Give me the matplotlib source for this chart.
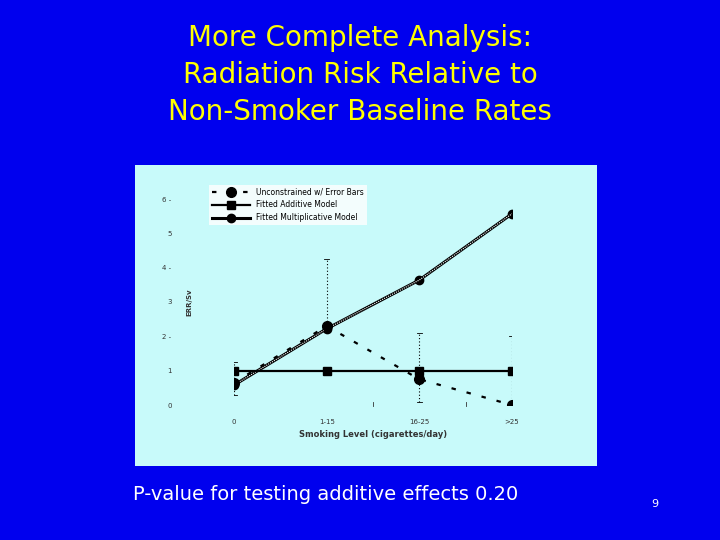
import matplotlib
matplotlib.use("Agg")
import matplotlib.pyplot as plt

levels = ["0", "1-15", "16-25", ">25"]
unconstrained = [0.65, 2.3, 0.75, 0.0]
err_low = [0.3, 2.25, 0.1, 0.0]
err_high = [1.25, 4.25, 2.1, 2.0]
additive = [1.0, 1.0, 1.0, 1.0]
multiplicative = [0.58, 2.22, 3.64, 5.57]

plt.rcParams["font.family"] = ["DejaVu Sans"]

fig = plt.figure(figsize=(7.2, 5.4), dpi=100)
fig.patch.set_facecolor("#0000ee")

for i, line in enumerate(["More Complete Analysis:", "Radiation Risk Relative to",
                          "Non-Smoker Baseline Rates"]):
    fig.text(0.5, 1 - (38 + 37 * i) / 540, line, ha="center", va="center",
             color="#ffff00", fontsize=20)

# light panel behind the chart
bg = fig.add_axes([135 / 720, 1 - 466 / 540, 462 / 720, 301 / 540], zorder=0)
bg.set_facecolor("#c8fafa")
bg.set_xticks([])
bg.set_yticks([])
for s in bg.spines.values():
    s.set_visible(False)

ax = fig.add_axes([234 / 720, 135 / 540, 278 / 720, 206 / 540], zorder=1)
ax.set_facecolor("none")
x = list(range(len(levels)))

for xi, lo, hi in zip(x, err_low, err_high):
    ax.plot([xi, xi], [lo, hi], color="black", lw=0.8, ls=(0, (1, 2)))
    ax.plot([xi - 0.03, xi + 0.03], [hi, hi], color="black", lw=0.6)
    ax.plot([xi - 0.03, xi + 0.03], [lo, lo], color="black", lw=0.6)

ax.plot(x, multiplicative, color="black", lw=2.2, marker="o", ms=6,
        label="Fitted Multiplicative Model")
ax.plot(x, multiplicative, color="white", lw=0.8, ls=(0, (1, 1)))
ax.plot(x, additive, color="black", lw=1.6, marker="s", ms=6,
        label="Fitted Additive Model")
ax.plot(x, unconstrained, color="black", lw=1.6, ls=(0, (2, 5)), marker="o", ms=7,
        label="Unconstrained w/ Error Bars")

ax.set_xlim(0, 3)
ax.set_ylim(0, 6)
for s in ax.spines.values():
    s.set_visible(False)
ax.set_yticks(range(7))
ax.set_yticklabels([f"{v} -" if v in (2, 4, 6) else str(v) for v in range(7)])
ax.tick_params(axis="y", length=0, labelsize=5, pad=45, colors="#333333")
ax.set_xticks(x)
ax.set_xticklabels(levels)
ax.tick_params(axis="x", length=0, labelsize=5, pad=10, colors="#333333")
for m in [1.5, 2.5]:
    ax.plot([m, m], [-0.02, 0.08], color="#333333", lw=0.6, clip_on=False)
ax.set_xlabel("Smoking Level (cigarettes/day)", fontsize=6, color="#333333",
              fontweight="bold")
ax.set_ylabel("ERR/Sv", fontsize=5, color="#333333", labelpad=-22, fontweight="bold")

h, l = ax.get_legend_handles_labels()
leg = ax.legend(h[::-1], l[::-1], loc="upper left", bbox_to_anchor=(-0.09, 1.07),
                fontsize=5.5, frameon=True, fancybox=False, edgecolor="none",
                handlelength=5, borderaxespad=0)
leg.get_frame().set_facecolor("white")

fig.text(133 / 720, 1 - 494 / 540, "P-value for testing additive effects 0.20",
         color="white", fontsize=14, va="center")
fig.text(655 / 720, 1 - 504 / 540, "9", color="white", fontsize=8, ha="center", va="center")

fig.savefig("out.png", dpi=100, facecolor=fig.get_facecolor())
